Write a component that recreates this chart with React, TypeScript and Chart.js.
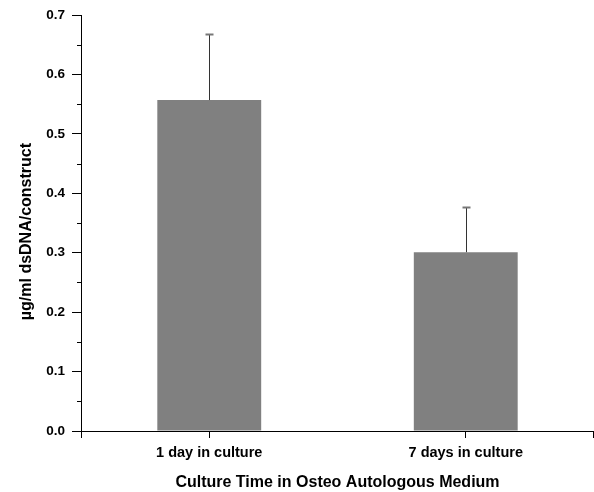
import React, { useEffect, useRef } from "react";
import { Chart, registerables } from "chart.js";

Chart.register(...registerables);

const categories = ["1 day in culture", "7 days in culture"];
const means = [0.557, 0.301];
const errors = [0.111, 0.076];
const yTicks = [0, 0.1, 0.2, 0.3, 0.4, 0.5, 0.6, 0.7];
const yMinorTicks = [0.05, 0.15, 0.25, 0.35, 0.45, 0.55, 0.65];
const yTitle = "µg/ml dsDNA/construct";
const xTitle = "Culture Time in Osteo Autologous Medium";

const FONT = "'Liberation Sans', Arial, sans-serif";

const extrasPlugin = {
  id: "extras",
  afterDatasetsDraw(chart: any) {
    const ctx = chart.ctx;
    const yScale = chart.scales.y;
    const meta = chart.getDatasetMeta(0);
    ctx.save();
    meta.data.forEach((bar: any, i: number) => {
      const x = Math.round(bar.x) + 0.5;
      const yBase = bar.y;
      const yTop = Math.round(yScale.getPixelForValue(means[i] + errors[i])) + 0.5;
      ctx.strokeStyle = "#333333";
      ctx.lineWidth = 1;
      ctx.beginPath();
      ctx.moveTo(x, yBase);
      ctx.lineTo(x, yTop);
      ctx.stroke();
      ctx.strokeStyle = "#777777";
      ctx.lineWidth = 2;
      ctx.beginPath();
      ctx.moveTo(x - 4, yTop);
      ctx.lineTo(x + 4, yTop);
      ctx.stroke();
    });
    ctx.restore();
  },
  afterDraw(chart: any) {
    const ctx = chart.ctx;
    const yScale = chart.scales.y;
    const area = chart.chartArea;
    ctx.save();
    ctx.strokeStyle = "#000000";
    ctx.lineWidth = 1;
    yMinorTicks.forEach((v) => {
      const y = Math.round(yScale.getPixelForValue(v)) + 0.5;
      ctx.beginPath();
      ctx.moveTo(area.left - 4, y);
      ctx.lineTo(area.left, y);
      ctx.stroke();
    });
    [area.left + 0.5, area.right - 0.5].forEach((x) => {
      ctx.beginPath();
      ctx.moveTo(x, area.bottom);
      ctx.lineTo(x, area.bottom + 7);
      ctx.stroke();
    });
    // y axis title
    ctx.translate(27, (area.top + area.bottom) / 2 + 8.5);
    ctx.rotate(-Math.PI / 2);
    ctx.fillStyle = "#000";
    ctx.font = `bold 16px ${FONT}`;
    ctx.textAlign = "center";
    ctx.textBaseline = "middle";
    ctx.fillText(yTitle, 0, 0);
    ctx.restore();
  },
};

export default function App() {
  const ref = useRef<HTMLCanvasElement>(null);
  useEffect(() => {
    document.body.style.margin = "0";
    const chart = new Chart(ref.current as HTMLCanvasElement, {
      type: "bar",
      data: {
        labels: categories,
        datasets: [
          {
            data: means,
            backgroundColor: "#808080",
            borderWidth: 0,
            categoryPercentage: 1,
            barPercentage: 0.405,
          },
        ],
      },
      options: {
        responsive: false,
        animation: false,
        layout: { padding: { top: 15, right: 0, left: 0, bottom: 0 } },
        plugins: {
          legend: { display: false },
          tooltip: { enabled: false },
        },
        scales: {
          x: {
            offset: true,
            grid: {
              offset: false,
              drawOnChartArea: false,
              tickLength: 7,
              tickColor: "#000",
            },
            border: { color: "#000", width: 1 },
            ticks: {
              color: "#000",
              padding: 6,
              font: { family: FONT, size: 14.5, weight: "bold" },
            },
            title: {
              display: true,
              text: xTitle,
              color: "#000",
              font: { family: FONT, size: 16, weight: "bold" },
              padding: { top: 0, bottom: 0 },
            },
            afterFit(scale: any) {
              scale.height = 61;
            },
          },
          y: {
            min: 0,
            max: 0.7,
            afterBuildTicks(scale: any) {
              scale.ticks = yTicks.map((v) => ({ value: v }));
            },
            grid: {
              drawOnChartArea: false,
              tickLength: 9,
              tickColor: "#000",
            },
            border: { color: "#000", width: 1 },
            ticks: {
              color: "#000",
              padding: 7,
              font: { family: FONT, size: 13.5, weight: "bold" },
              callback: (v: any) => Number(v).toFixed(1),
            },
            title: { display: false },
            afterFit(scale: any) {
              scale.width = 81;
            },
          },
        },
      },
      plugins: [extrasPlugin],
    } as any);
    return () => chart.destroy();
  }, []);
  return (
    <div style={{ width: 594, height: 492 }}>
      <canvas ref={ref} width={594} height={492} />
    </div>
  );
}
